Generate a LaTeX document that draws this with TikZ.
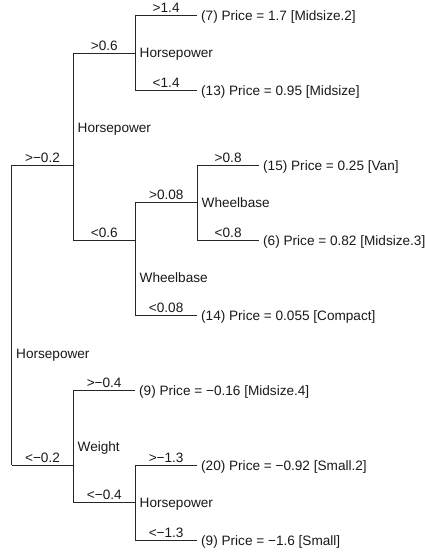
\documentclass[tikz,border=0pt]{standalone}
\usepackage{fontspec}
\setmainfont{Liberation Sans}
\begin{document}
\begin{tikzpicture}[x=1pt,y=-1pt,
  every node/.style={font=\fontsize{13.6}{16}\selectfont, text=black!90},
  branch/.style={line width=0.9pt, draw=black!85},
  blabel/.style={above=2.4pt, inner sep=0pt},
  leaf/.style={anchor=base west, inner xsep=4pt, inner ysep=0pt, yshift=-5pt},
  splitlbl/.style={anchor=base west, inner sep=0pt}]
\useasboundingbox (0,0) rectangle (425,552);
% split coordinates
\coordinate (S1t) at (11.7,165);   \coordinate (S1b) at (11.7,465);
\coordinate (S2t) at (73.3,53.3);  \coordinate (S2b) at (73.3,240);  \coordinate (S2a) at (73.3,165);
\coordinate (S3t) at (135.3,15.5); \coordinate (S3b) at (135.3,90);  \coordinate (S3a) at (135.3,53.3);
\coordinate (S4t) at (135.3,202.7);\coordinate (S4b) at (135.3,315); \coordinate (S4a) at (135.3,240);
\coordinate (S5t) at (197.3,165.7);\coordinate (S5b) at (197.3,240); \coordinate (S5a) at (197.3,202.7);
\coordinate (S6t) at (73.3,390);   \coordinate (S6b) at (73.3,502.3);\coordinate (S6a) at (73.3,465);
\coordinate (S7t) at (135.3,465);  \coordinate (S7b) at (135.3,540); \coordinate (S7a) at (135.3,502.3);
% leaf end points
\coordinate (E7)  at (197,15.5);
\coordinate (E13) at (197,90);
\coordinate (E15) at (259,165.7);
\coordinate (E6)  at (259,240);
\coordinate (E14) at (197,315);
\coordinate (E9a) at (135,390);
\coordinate (E20) at (197,465);
\coordinate (E9b) at (197,540);
% split labels
\node[splitlbl] (L1) at (16,358) {Horsepower};
\node[splitlbl] (L2) at (77.5,132.7) {Horsepower};
\node[splitlbl] (L3) at (139.5,57.3) {Horsepower};
\node[splitlbl] (L4) at (139.5,282.7) {Wheelbase};
\node[splitlbl] (L5) at (201.5,207.5) {Wheelbase};
\node[splitlbl] (L6) at (77.5,451) {Weight};
\node[splitlbl] (L7) at (139.5,507) {Horsepower};
% leaves
\node[leaf] (T7)  at (E7)  {(7) Price = 1.7 [Midsize.2]};
\node[leaf] (T13) at (E13) {(13) Price = 0.95 [Midsize]};
\node[leaf] (T15) at (E15) {(15) Price = 0.25 [Van]};
\node[leaf] (T6)  at (E6)  {(6) Price = 0.82 [Midsize.3]};
\node[leaf] (T14) at (E14) {(14) Price = 0.055 [Compact]};
\node[leaf] (T9a) at (E9a) {(9) Price = −0.16 [Midsize.4]};
\node[leaf] (T20) at (E20) {(20) Price = −0.92 [Small.2]};
\node[leaf] (T9b) at (E9b) {(9) Price = −1.6 [Small]};
% verticals
\foreach \s in {S1,S2,S3,S4,S5,S6,S7} \draw[branch] (\s t) -- (\s b);
% branches
\draw[branch] (S1t) -- node[blabel] {>−0.2} (S2a);
\draw[branch] (S1b) -- node[blabel] {<−0.2} (S6a);
\draw[branch] (S2t) -- node[blabel] {>0.6} (S3a);
\draw[branch] (S2b) -- node[blabel] {<0.6} (S4a);
\draw[branch] (S3t) -- node[blabel] {>1.4} (E7);
\draw[branch] (S3b) -- node[blabel] {<1.4} (E13);
\draw[branch] (S4t) -- node[blabel] {>0.08} (S5a);
\draw[branch] (S4b) -- node[blabel] {<0.08} (E14);
\draw[branch] (S5t) -- node[blabel] {>0.8} (E15);
\draw[branch] (S5b) -- node[blabel] {<0.8} (E6);
\draw[branch] (S6t) -- node[blabel] {>−0.4} (E9a);
\draw[branch] (S6b) -- node[blabel] {<−0.4} (S7a);
\draw[branch] (S7t) -- node[blabel] {>−1.3} (E20);
\draw[branch] (S7b) -- node[blabel] {<−1.3} (E9b);
\end{tikzpicture}
\end{document}
